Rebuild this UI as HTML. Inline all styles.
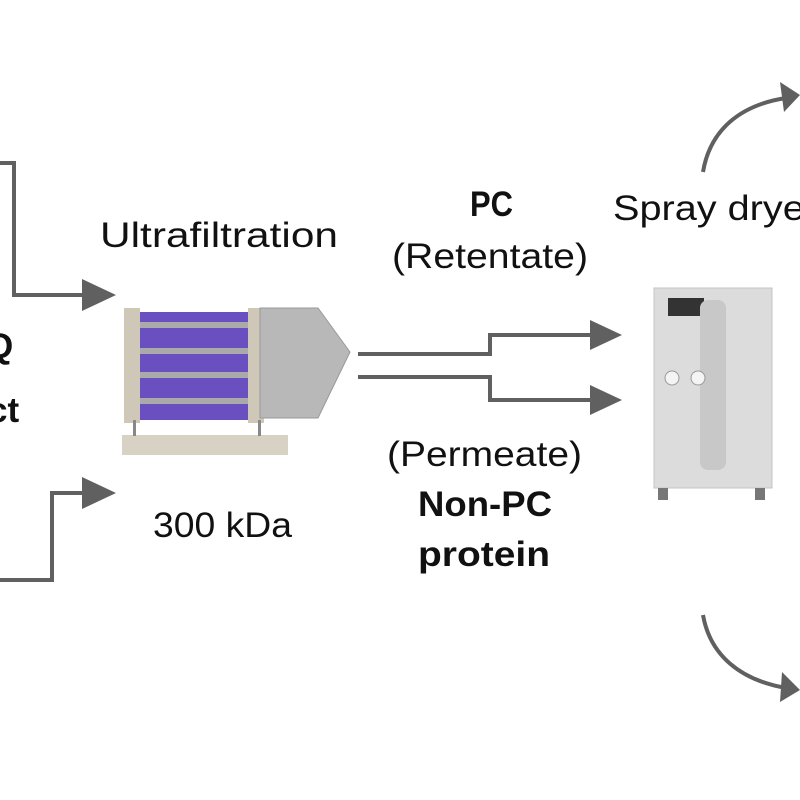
<!DOCTYPE html>
<html><head><meta charset="utf-8"><style>
html,body{margin:0;padding:0;background:#fff;overflow:hidden;}
svg{display:block;font-family:"Liberation Sans",sans-serif;}
</style></head><body>
<svg width="800" height="800" viewBox="0 0 800 800" xmlns="http://www.w3.org/2000/svg">
<g stroke="#606060" stroke-width="4" fill="none">
<polyline points="0,163 14,163 14,295 84,295"/>
<polyline points="0,580 52,580 52,493 84,493"/>
<polyline points="358,354 490,354 490,335 592,335"/>
<polyline points="358,377 490,377 490,400 592,400"/>
<path d="M703,172 C710,130 740,105 786,98"/>
<path d="M703,615 C710,655 740,680 786,688"/>
</g>
<g fill="#606060">
<polygon points="82,279 116,295 82,311"/>
<polygon points="82,477 116,493 82,509"/>
<polygon points="590,320 622,335 590,350"/>
<polygon points="590,385 622,400 590,415"/>
<polygon points="780,82 800,95 784,112"/>
<polygon points="782,672 800,690 780,702"/>
</g>
<!-- ultrafiltration unit -->
<rect x="124" y="308" width="16" height="115" fill="#cfc8b8"/>
<rect x="248" y="308" width="16" height="115" fill="#cfc8b8"/>
<rect x="140" y="312" width="108" height="108" fill="#6a4fc0"/>
<rect x="140" y="322" width="108" height="6" fill="#aaa"/>
<rect x="140" y="348" width="108" height="6" fill="#aaa"/>
<rect x="140" y="372" width="108" height="6" fill="#aaa"/>
<rect x="140" y="398" width="108" height="6" fill="#aaa"/>
<polygon points="260,308 318,308 350,352 318,418 260,418" fill="#b8b8b8" stroke="#999"/>
<rect x="122" y="435" width="166" height="20" fill="#d8d2c4"/>
<rect x="133" y="420" width="3" height="16" fill="#888"/>
<rect x="258" y="420" width="3" height="16" fill="#888"/>
<!-- spray dryer -->
<rect x="654" y="288" width="118" height="200" fill="#dcdcdc" stroke="#c4c4c4"/>
<rect x="668" y="298" width="36" height="18" fill="#333"/>
<rect x="700" y="300" width="26" height="170" rx="8" fill="#c8c8c8"/>
<circle cx="672" cy="378" r="7" fill="#f4f4f4" stroke="#999"/>
<circle cx="698" cy="378" r="7" fill="#f4f4f4" stroke="#999"/>
<rect x="658" y="488" width="10" height="12" fill="#777"/>
<rect x="755" y="488" width="10" height="12" fill="#777"/>
<g fill="#111" font-size="35" lengthAdjust="spacingAndGlyphs">
<text x="100" y="247" textLength="238" lengthAdjust="spacingAndGlyphs">Ultrafiltration</text>
<text x="153" y="537" textLength="139" lengthAdjust="spacingAndGlyphs">300 kDa</text>
<text x="392" y="268" textLength="196" lengthAdjust="spacingAndGlyphs">(Retentate)</text>
<text x="387" y="466" textLength="195" lengthAdjust="spacingAndGlyphs">(Permeate)</text>
<text x="613" y="220" textLength="205" lengthAdjust="spacingAndGlyphs">Spray dryer</text>
<text x="470" y="216" textLength="43" lengthAdjust="spacingAndGlyphs" font-weight="bold">PC</text>
<text x="418" y="516" textLength="134" lengthAdjust="spacingAndGlyphs" font-weight="bold">Non-PC</text>
<text x="418" y="566" textLength="132" lengthAdjust="spacingAndGlyphs" font-weight="bold">protein</text>
<text x="-14" y="358" font-weight="bold">Q</text>
<text x="-12" y="422" font-weight="bold">ct</text>
</g>
</svg>
</body></html>
